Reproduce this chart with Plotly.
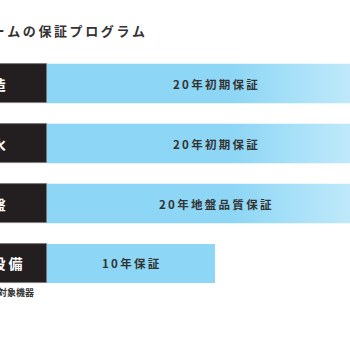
import plotly.graph_objects as go

# Warranty programme data
title_text = "ホームの保証プログラム"
categories = ["構造", "防水", "地盤", "住宅設備"]
years = [20, 20, 20, 10]
bar_labels = ["20年初期保証", "20年初期保証", "20年地盤品質保証", "10年保証"]
footnote = "※対象機器"

LABEL_SPAN = 5.6  # width of the dark label box, in years
BAR_W = 0.66
FONT = "Noto Sans CJK JP"

def spaced(s, sep="\u2009"):
    return sep.join(s)

rows = list(range(len(categories)))

fig = go.Figure()

# dark category boxes
fig.add_trace(go.Bar(
    y=rows, x=[LABEL_SPAN] * len(rows), base=[-LABEL_SPAN] * len(rows),
    orientation="h", width=BAR_W,
    marker=dict(color="#231f20", line=dict(color="#77757a", width=0.8)),
    hoverinfo="skip", showlegend=False,
))

# warranty-length bars
fig.add_trace(go.Bar(
    y=rows, x=years, orientation="h", width=BAR_W,
    marker=dict(color="#8dd6f5", line=dict(width=0)),
    hoverinfo="skip", showlegend=False,
))

# fading sheen on the long bars
for i, v in zip(rows, years):
    if v < 20:
        continue
    lo, hi = i - BAR_W / 2, i + BAR_W / 2
    fig.add_trace(go.Scatter(
        x=[0, v, v, 0, 0], y=[lo, lo, hi, hi, lo],
        mode="lines", line=dict(width=0), fill="toself",
        fillgradient=dict(type="horizontal", start=0, stop=v,
                          colorscale=[[0, "#8dd6f5"], [0.55, "#8dd6f5"],
                                      [1, "#cdeefc"]]),
        hoverinfo="skip", showlegend=False,
    ))

annotations = []
for i, (cat, v, lab) in enumerate(zip(categories, years, bar_labels)):
    annotations.append(dict(
        xref="paper", yref="y", x=-10 / 350, y=i, xanchor="center",
        text=f"<b>{spaced(cat)}</b>", showarrow=False,
        font=dict(family=FONT, size=14, color="white"),
    ))
    annotations.append(dict(
        xref="x", yref="y", x=v / 2, y=i, xanchor="center",
        text=f"<b>{spaced(lab)}</b>", showarrow=False,
        font=dict(family=FONT, size=11.5, color="#333333"),
    ))

annotations.append(dict(
    xref="paper", yref="paper", x=147 / 350, y=1 - 30 / 350,
    xanchor="right", yanchor="middle",
    text=f"<b>{spaced(title_text)}</b>", showarrow=False,
    font=dict(family=FONT, size=13, color="#333333"),
))
annotations.append(dict(
    xref="paper", yref="paper", x=36 / 350, y=1 - 292 / 350,
    xanchor="right", yanchor="middle",
    text=f"<b>{footnote}</b>", showarrow=False,
    font=dict(family=FONT, size=9, color="#333333"),
))

fig.update_layout(
    width=350, height=350,
    margin=dict(l=0, r=0, t=0, b=0),
    paper_bgcolor="white", plot_bgcolor="white",
    barmode="overlay", bargap=0,
    xaxis=dict(range=[-2.798, 18.036], visible=False, fixedrange=True),
    yaxis=dict(range=[4.442, -1.392], visible=False, fixedrange=True),
    annotations=annotations,
)

fig.write_html("out.html")
